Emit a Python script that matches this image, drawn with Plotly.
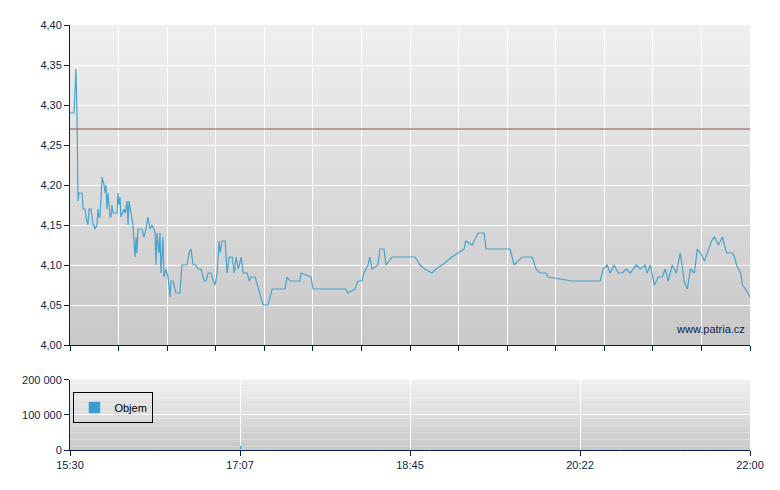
import plotly.graph_objects as go
import numpy as np

t = [0,2.3,3.4,4,4.6,5.2,6.9,7.5,8.6,9.2,10.3,10.9,12,13.2,13.8,14.3,15.5,16.1,16.6,17.2,18.4,19.5,20.1,20.6,21.2,21.8,23,23.5,24.1,24.7,27,27.5,28.1,28.7,29.2,31,31.5,32.1,32.7,33.3,33.8,35,36.1,37.3,37.9,38.4,39,41.3,42.4,43.6,44.7,45.9,47,48.2,48.8,49.3,49.9,51,51.6,52.2,53.3,53.9,55.1,56.2,57.4,57.9,59.1,60.8,63.1,64.2,67.1,68.3,69.4,70.6,72.3,73.4,75.1,76.9,78,79.2,80.9,82.1,83.2,84.4,85.5,86.1,87.2,89,90.1,91.3,93,94.2,95.3,96.5,98.2,99.4,101.6,102.8,103.9,106.2,110.7,113.6,115.9,123.3,124.5,126.2,131.9,132.5,138.2,139.4,158.3,159.4,163.4,165.1,167.4,168.6,170.9,172,173.2,176.6,177.8,180.1,181.2,184.7,197.9,200.7,203.6,207.6,209.9,213.4,216.2,219.1,222.5,226,227.1,230.6,234,237.5,238.6,252.4,254.7,257,259.3,265,267.3,269.6,273.1,274.2,288,304,305.8,308.1,309.8,312.1,314.4,316.7,319,321.3,324.7,327,329.9,331,332.8,335.1,337.4,339.7,341.4,343.1,345.4,347.7,350,352.3,354.1,355.8,358.1,359.8,361.6,363.9,366.2,367.9,369.6,371.9,374.2,376.5,380,381.1,382.3,384.6,385.7,387.4,390]
price = [4.29,4.29,4.345,4.29,4.18,4.19,4.19,4.17,4.17,4.16,4.15,4.17,4.17,4.15,4.15,4.145,4.15,4.17,4.16,4.16,4.21,4.20,4.19,4.20,4.17,4.19,4.16,4.16,4.175,4.165,4.165,4.19,4.175,4.185,4.16,4.17,4.165,4.17,4.18,4.15,4.18,4.165,4.15,4.11,4.135,4.115,4.145,4.145,4.135,4.145,4.16,4.145,4.15,4.145,4.14,4.10,4.14,4.115,4.14,4.09,4.135,4.085,4.095,4.085,4.06,4.08,4.08,4.065,4.065,4.10,4.10,4.115,4.12,4.10,4.10,4.095,4.095,4.08,4.08,4.09,4.09,4.08,4.075,4.09,4.13,4.115,4.13,4.13,4.09,4.11,4.11,4.09,4.11,4.095,4.11,4.09,4.09,4.08,4.085,4.085,4.05,4.05,4.07,4.07,4.085,4.08,4.08,4.09,4.085,4.07,4.07,4.065,4.07,4.08,4.08,4.09,4.10,4.11,4.095,4.10,4.12,4.12,4.10,4.11,4.11,4.10,4.095,4.09,4.095,4.10,4.105,4.11,4.115,4.12,4.13,4.125,4.14,4.14,4.12,4.12,4.10,4.105,4.11,4.11,4.095,4.09,4.09,4.085,4.08,4.08,4.095,4.10,4.09,4.10,4.09,4.09,4.095,4.09,4.10,4.095,4.10,4.09,4.10,4.075,4.085,4.085,4.095,4.08,4.10,4.09,4.115,4.08,4.07,4.095,4.09,4.12,4.115,4.105,4.12,4.13,4.135,4.125,4.135,4.115,4.115,4.11,4.10,4.09,4.075,4.07,4.06]
vol_t = [49, 98, 100, 104, 108, 112, 114, 116, 177, 206, 300, 302, 304, 315, 350, 365, 380, 384, 386]
vol = [2500, 12000, 2000, 1500, 2000, 2500, 2500, 2500, 2000, 1500, 3000, 3000, 2500, 1500, 1500, 1500, 2500, 3000, 2000]
ref_price = 4.27
xlabels = ["15:30", "17:07", "18:45", "20:22", "22:00"]

navy = "#0a1f4d"
fig = go.Figure()
fig.add_trace(go.Scatter(x=t, y=price, mode="lines", line=dict(color="#4aa3cc", width=1.2),
                         xaxis="x", yaxis="y", showlegend=False))
fig.add_trace(go.Bar(x=vol_t, y=vol, marker_color="#3e9ccc", width=0.8, name="Objem",
                     xaxis="x2", yaxis="y2", showlegend=True))
fig.add_trace(go.Scatter(x=[0, 390], y=[ref_price, ref_price], mode="lines",
                         line=dict(color="#8a4a4a", width=1), xaxis="x", yaxis="y", showlegend=False))

shapes = []
n = 20
for yref in ["y domain", "y2 domain"]:
    for i in range(n):
        c = int(200 + 40 * (i + 0.5) / n)
        shapes.append(dict(type="rect", xref="x domain" if yref == "y domain" else "x2 domain", yref=yref,
                           x0=0, x1=1, y0=i / n, y1=(i + 1) / n, fillcolor=f"rgb({c},{c},{c})",
                           line_width=0, layer="below"))

top_ticks = list(np.linspace(0, 390, 15))
bot_ticks = list(np.linspace(0, 390, 5))
axcommon = dict(showline=True, linecolor=navy, linewidth=1, ticks="outside", tickcolor=navy,
                ticklen=5, gridcolor="white", gridwidth=1, zeroline=False, automargin=False,
                tickfont=dict(family="Liberation Sans, Arial", size=11, color=navy))
fig.update_layout(
    width=772, height=482, margin=dict(l=62, r=30, t=17, b=40),
    paper_bgcolor="white", plot_bgcolor="rgba(0,0,0,0)", separators=", ",
    shapes=shapes, bargap=0,
    xaxis=dict(domain=[0, 1], range=[0, 390], tickvals=top_ticks, showticklabels=False, anchor="y", **axcommon),
    yaxis=dict(domain=[0.247, 1.0], range=[4.0, 4.4], dtick=0.05, tickformat=".2f", anchor="x", **axcommon),
    xaxis2=dict(domain=[0, 1], range=[0, 390], tickvals=bot_ticks, ticktext=xlabels, anchor="y2", **axcommon),
    yaxis2=dict(domain=[0, 0.165], range=[0, 200000], tickvals=[0, 100000, 200000], tickformat=",d", anchor="x2", **axcommon),
    legend=dict(x=0.005, y=0.1, xanchor="left", yanchor="middle", bgcolor="rgba(0,0,0,0)",
                bordercolor="black", borderwidth=1, itemwidth=30, tracegroupgap=0,
                font=dict(family="Liberation Sans, Arial", size=11, color="black")),
    annotations=[dict(text="www.patria.cz", x=0.995, y=0.265, xref="paper", yref="paper", xanchor="right",
                      yanchor="bottom", showarrow=False, font=dict(family="Liberation Sans, Arial", size=11, color=navy))],
)
fig.write_html("out.html")
